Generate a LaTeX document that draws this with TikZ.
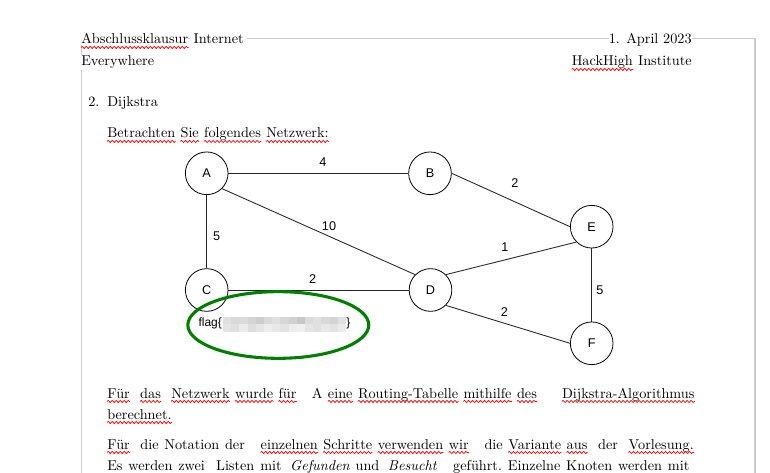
\documentclass[tikz,border=0pt]{standalone}
\usepackage{fontspec}
\newfontfamily\lsans{Liberation Sans}
\usetikzlibrary{shapes.geometric,positioning,decorations.pathmorphing}
\newcommand\bodyfnt{\fontsize{10.7}{13}\selectfont}
\newcommand\gfnt{\lsans\fontsize{9.5}{11}\selectfont}
\definecolor{flaggreen}{RGB}{0,128,0}
\definecolor{framegray}{RGB}{204,204,204}
\begin{document}
\begin{tikzpicture}[x=0.75pt,y=-0.75pt,
  txt/.style={anchor=base west, inner sep=0pt, font=\bodyfnt},
  hdr/.style={inner ysep=0.6pt, inner xsep=2.5pt, fill=white, font=\bodyfnt},
  vx/.style={circle, draw=black, fill=white, line width=0.6pt, minimum size=32pt, inner sep=0pt, font=\gfnt},
  edge/.style={draw=black!85, line width=0.65pt},
  lbl/.style={inner sep=0pt, font=\gfnt},
  ring/.style={ellipse, draw=flaggreen, line width=2.3pt, minimum width=135.7pt, minimum height=50pt, inner sep=0pt},
  sqg/.style={draw=red, line width=0.55pt, decorate, decoration={snake, segment length=3pt, amplitude=0.8pt}}]
\useasboundingbox[fill=white] (0,0) rectangle (770,473);
% page frame
\draw[framegray, line width=0.8pt] (81.7,473) -- (81.7,38.3) -- (755,38.3) -- (755,473);
% header
\node[hdr, anchor=base west, inner xsep=0pt] (h1) at (81,44) {Abschlussklausur};
\node[hdr, base right=1.2pt of h1] (h1b) {Internet};
\node[hdr, anchor=base west, inner xsep=0pt] (h2) at (81,66) {Everywhere};
\node[hdr, anchor=base east, inner xsep=0pt] (h3) at (692,44) {1.\hspace{0.45em}April 2023};
\node[hdr, anchor=base east, inner xsep=0pt] (h4b) at (692,66) {Institute};
\node[hdr, base left=3.6pt of h4b, inner xsep=0pt] (h4) {HackHigh};
% section
\node[txt] (num) at (88,106.5) {2.};
\node[txt] (sec) at (107,106.5) {Dijkstra};
\node[txt] (i1) at (107,138) {Betrachten};
\node[txt, base right=3.6pt of i1] (i2) {Sie};
\node[txt, base right=3.6pt of i2] (i3) {folgendes};
\node[txt, base right=3.6pt of i3] (i4) {Netzwerk:};
% graph
\node[vx] (A) at (206.7,173.3) {A};
\node[vx] (B) at (430,173.3) {B};
\node[vx] (C) at (206.7,290) {C};
\node[vx] (D) at (430.5,290) {D};
\node[vx] (E) at (591.7,226.7) {E};
\node[vx] (F) at (591.7,343.3) {F};
\draw[edge] (A.east) -- (B.west);
\draw[edge] (A.south) -- (C.north);
\draw[edge] (A.south east) -- (D.north west);
\draw[edge] (C.east) -- (D.west);
\draw[edge] (B.east) -- (E.west);
\draw[edge] (D.north east) -- (E.south west);
\draw[edge] (D.south east) -- (F.west);
\draw[edge] (E.south) -- (F.north);
\node[lbl] (lAB) at (323,161.7) {4};
\node[lbl] (lAD) at (329,226) {10};
\node[lbl] (lAC) at (216.7,236.7) {5};
\node[lbl] (lCD) at (312.7,279.3) {2};
\node[lbl] (lBE) at (515,183.3) {2};
\node[lbl] (lDE) at (505,247.3) {1};
\node[lbl] (lDF) at (504.3,311.7) {2};
\node[lbl] (lEF) at (600,290) {5};
% flag with redacted part
\node[anchor=base west, inner sep=0pt, font=\lsans\fontsize{9}{11}\selectfont] (flag) at (198.3,327) {flag\{};
\foreach \g [count=\i from 0] in {12,15,14,17,20,15,12,16,18,22,14,12,15,17,12}
  \fill[black!\g] (223+\i*8.2,316.7) rectangle ++(8.2,7.5);
\foreach \g [count=\i from 0] in {10,12,8,13,10,7,9,11,7,6,10,12,9,11,8}
  \fill[black!\g] (223+\i*8.2,324.2) rectangle ++(8.2,7.5);
\node[anchor=base west, inner sep=0pt, font=\lsans\fontsize{9}{11}\selectfont] (flagend) at (346,327) {\}};
\node[ring] (circ) at (278.3,325) {};
% paragraph line 1
\node[txt] (a1) at (107,398) {Für};
\node[txt, base right=7.4pt of a1] (a2) {das};
\node[txt, base right=7.4pt of a2] (a3) {Netzwerk};
\node[txt, base right=3.7pt of a3] (a4) {wurde};
\node[txt, base right=3.7pt of a4] (a5) {für};
\node[txt, base right=11.1pt of a5] (a6) {A};
\node[txt, base right=3.7pt of a6] (a7) {eine};
\node[txt, base right=3.7pt of a7] (a8) {Routing-Tabelle};
\node[txt, base right=3.7pt of a8] (a9) {mithilfe};
\node[txt, base right=3.7pt of a9] (a10) {des};
\node[txt, base right=18.5pt of a10] (a11) {Dijkstra-Algorithmus};
% line 2
\node[txt] (b1) at (107,419) {berechnet.};
% line 3
\node[txt] (c1) at (107,449) {Für};
\node[txt, base right=7.6pt of c1] (c2) {die};
\node[txt, base right=3.8pt of c2] (c3) {Notation};
\node[txt, base right=3.8pt of c3] (c4) {der};
\node[txt, base right=11.5pt of c4] (c5) {einzelnen};
\node[txt, base right=3.8pt of c5] (c6) {Schritte};
\node[txt, base right=3.8pt of c6] (c7) {verwenden};
\node[txt, base right=3.8pt of c7] (c8) {wir};
\node[txt, base right=11.5pt of c8] (c9) {die};
\node[txt, base right=3.8pt of c9] (c10) {Variante};
\node[txt, base right=3.8pt of c10] (c11) {aus};
\node[txt, base right=7.6pt of c11] (c12) {der};
\node[txt, base right=7.6pt of c12] (c13) {Vorlesung.};
% line 4
\node[txt] (d1) at (107,470) {Es};
\node[txt, base right=4pt of d1] (d2) {werden};
\node[txt, base right=4pt of d2] (d3) {zwei};
\node[txt, base right=8pt of d3] (d4) {Listen};
\node[txt, base right=4pt of d4] (d5) {mit};
\node[txt, base right=6pt of d5] (d6) {\itshape Gefunden};
\node[txt, base right=4pt of d6] (d7) {und};
\node[txt, base right=6pt of d7] (d8) {\itshape Besucht};
\node[txt, base right=12pt of d8] (d9) {geführt.};
\node[txt, base right=4pt of d9] (d10) {Einzelne};
\node[txt, base right=4pt of d10] (d11) {Knoten};
\node[txt, base right=4pt of d11] (d12) {werden};
\node[txt, base right=4pt of d12] (d13) {mit};
% spell-check squiggles
\foreach \n in {h1,h4,i1,i2,i3,i4,a1,a2,a3,a4,a5,a7,a8,a9,a10,a11,b1,c1,c5,c6,c7,c8,c10,c11,c13}
  \draw[sqg] ([yshift=-2.6pt]\n.base west) -- ([yshift=-2.6pt]\n.base east);
\end{tikzpicture}
\end{document}
